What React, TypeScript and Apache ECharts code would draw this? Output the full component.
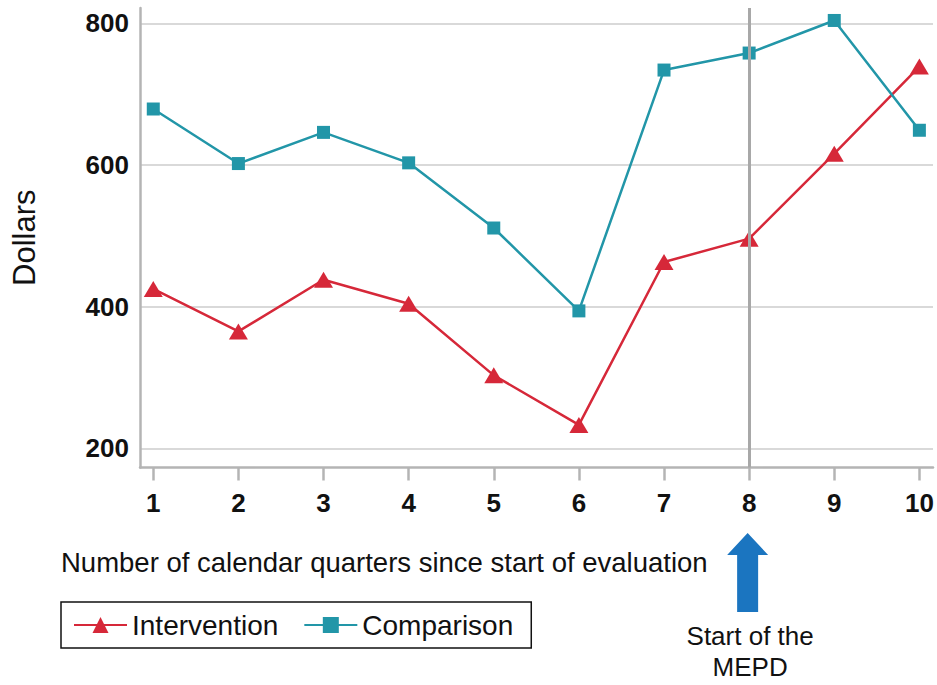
import React, { useEffect, useRef } from 'react';
import * as echarts from 'echarts';

const quarters = [1, 2, 3, 4, 5, 6, 7, 8, 9, 10];
const intervention = [425, 365, 438, 404, 303, 233, 463, 496, 616, 739];
const comparison = [679, 602, 646, 603, 511, 394, 734, 758, 804, 649];
const yTicks = [200, 400, 600, 800];
const mepdQuarter = 8;

const FONT = '"Liberation Sans", Arial, Helvetica, sans-serif';
const RED = '#d62839';
const TEAL = '#2296a8';
const BLUE = '#1b75c0';
const AXIS_GRAY = '#b4b4b4';

export default function App() {
  const ref = useRef<HTMLDivElement>(null);
  useEffect(() => {
    const chart = echarts.init(ref.current!, null, { renderer: 'svg' });
    const option: any = {
      animation: false,
      backgroundColor: '#fff',
      textStyle: { fontFamily: FONT },
      grid: { left: 140, right: 4, top: 8, bottom: 217.5, containLabel: false },
      xAxis: {
        type: 'value',
        min: 0.844,
        max: 10.16,
        axisLine: { show: true, lineStyle: { color: AXIS_GRAY, width: 2.5 } },
        axisTick: { show: true, length: 13, lineStyle: { color: AXIS_GRAY, width: 2.5 }, customValues: quarters },
        axisLabel: {
          customValues: quarters,
          margin: 22,
          color: '#111',
          fontSize: 26,
          fontWeight: 'bold',
          fontFamily: FONT,
        },
        splitLine: { show: false },
      },
      yAxis: {
        type: 'value',
        min: 172.9,
        max: 821.6,
        name: 'Dollars',
        nameLocation: 'middle',
        nameGap: 100,
        nameTextStyle: { fontSize: 31, color: '#111', fontFamily: FONT },
        axisLine: { show: true, lineStyle: { color: AXIS_GRAY, width: 2.5 } },
        axisTick: { show: false, customValues: yTicks },
        axisLabel: {
          customValues: yTicks,
          margin: 11,
          color: '#111',
          fontSize: 26,
          fontWeight: 'bold',
          fontFamily: FONT,
        },
        splitLine: { show: true, lineStyle: { color: '#cccccc', width: 1.5 } },
      },
      legend: {
        data: ['Intervention', 'Comparison'],
        left: 61,
        top: 602,
        orient: 'horizontal',
        borderColor: '#111',
        borderWidth: 1.5,
        padding: [8, 18, 8, 12],
        itemWidth: 53,
        itemHeight: 20,
        itemGap: 25,
        textStyle: { fontSize: 28, color: '#111', fontFamily: FONT, lineHeight: 30 },
      },
      series: [
        {
          type: 'line',
          data: [],
          z: 1,
          silent: true,
          markLine: {
            symbol: 'none',
            silent: true,
            label: { show: false },
            lineStyle: { color: '#a8a8a8', width: 3, type: 'solid' },
            data: [{ xAxis: mepdQuarter }],
          },
        },
        {
          name: 'Intervention',
          type: 'line',
          z: 3,
          data: quarters.map((q, i) => [q, intervention[i]]),
          symbol: 'triangle',
          symbolSize: [19, 16],
          itemStyle: { color: RED },
          lineStyle: { color: RED, width: 2.5 },
        },
        {
          name: 'Comparison',
          type: 'line',
          z: 3,
          data: quarters.map((q, i) => [q, comparison[i]]),
          symbol: 'rect',
          symbolSize: 13,
          itemStyle: { color: TEAL },
          lineStyle: { color: TEAL, width: 2.5 },
        },
      ],
    };
    chart.setOption(option);
    const px = chart.convertToPixel({ xAxisIndex: 0 }, mepdQuarter) as number;
    chart.setOption({
      graphic: [
        {
          type: 'text',
          left: 61,
          top: 548,
          style: {
            text: 'Number of calendar quarters since start of evaluation',
            fontSize: 27.5,
            fontFamily: FONT,
            fill: '#111',
          },
        },
        {
          type: 'polygon',
          shape: {
            points: [
              [px - 1.5, 533],
              [px + 19, 555],
              [px + 9, 555],
              [px + 9, 612],
              [px - 12, 612],
              [px - 12, 555],
              [px - 22, 555],
            ],
          },
          style: { fill: BLUE },
        },
        {
          type: 'text',
          x: px + 1,
          y: 651,
          style: {
            text: 'Start of the\nMEPD',
            fontSize: 26,
            lineHeight: 31,
            fontFamily: FONT,
            fill: '#111',
            align: 'center',
            verticalAlign: 'middle',
          },
        },
      ],
    });
    return () => chart.dispose();
  }, []);
  return (
    <div
      ref={ref}
      style={{ position: 'fixed', left: 0, top: 0, width: 937, height: 685, background: '#fff' }}
    />
  );
}
